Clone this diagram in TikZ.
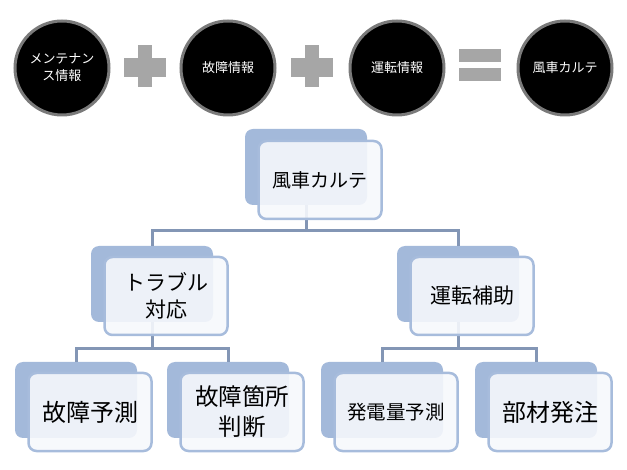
\documentclass[tikz,border=0pt]{standalone}
\usepackage{fontspec}
\setmainfont{Noto Sans CJK JP}
\definecolor{backblue}{HTML}{A3B9DA}
\definecolor{frontfill}{HTML}{F6F8FC}
\definecolor{frontline}{HTML}{A7BCDC}
\definecolor{conn}{HTML}{8396B5}
\definecolor{signgray}{HTML}{A6A6A6}
\definecolor{ringgray}{HTML}{7A7A7A}
\tikzset{
  backbox/.style={rectangle, rounded corners=8pt, fill=backblue, minimum width=122pt, minimum height=76pt, inner sep=0pt},
  frontbox/.style={rectangle, rounded corners=8pt, fill=frontfill, fill opacity=0.9, text opacity=1, draw=frontline, line width=2.5pt, minimum width=123pt, minimum height=78pt, inner sep=0pt, align=center, text=black},
  circ/.style={circle, fill=black, draw=ringgray, line width=3pt, minimum size=94pt, inner sep=0pt, text=white, align=center, font=\fontsize{13pt}{17pt}\selectfont},
  connector/.style={draw=conn, line width=3pt},
  signbar/.style={fill=signgray}
}
\begin{document}
\begin{tikzpicture}[x=1pt,y=-1pt]
\useasboundingbox (0,0) rectangle (627,470);
% top row
\node[circ] (c1) at (62,68) {メンテナン\\ス情報};
\node[circ] (c2) at (228,68) {故障情報};
\node[circ] (c3) at (397,68) {運転情報};
\node[circ] (c4) at (565,68) {風車カルテ};
% plus signs
\fill[signbar] (124,58) rectangle (166,77);
\fill[signbar] (138,45) rectangle (152,87);
\fill[signbar] (291,58) rectangle (333,77);
\fill[signbar] (305,45) rectangle (319,87);
% equals
\fill[signbar] (459,49) rectangle (501,62);
\fill[signbar] (459,68) rectangle (501,81);
% junction coordinates
\coordinate (j0) at (306,231);
\coordinate (j1) at (152,349);
\coordinate (j2) at (458,349);
% back boxes
\node[backbox] (root) at (306,167) {};
\node[backbox] (l2a) at (152,284) {};
\node[backbox] (l2b) at (458,284) {};
\node[backbox] (l3a) at (76,400) {};
\node[backbox] (l3b) at (228,400) {};
\node[backbox] (l3c) at (382,400) {};
\node[backbox] (l3d) at (536,400) {};
% connectors
\draw[connector] (root.south) -- (j0);
\draw[connector] (j0) -| (l2a.north);
\draw[connector] (j0) -| (l2b.north);
\draw[connector] (l2a.south) -- (j1);
\draw[connector] (j1) -| (l3a.north);
\draw[connector] (j1) -| (l3b.north);
\draw[connector] (l2b.south) -- (j2);
\draw[connector] (j2) -| (l3c.north);
\draw[connector] (j2) -| (l3d.north);
% front boxes
\node[frontbox, font=\fontsize{19pt}{24pt}\selectfont] (froot) at (320,180) {風車カルテ};
\node[frontbox, font=\fontsize{21pt}{27pt}\selectfont] (fl2a) at (166,296) {トラブル\\対応};
\node[frontbox, font=\fontsize{21pt}{27pt}\selectfont] (fl2b) at (472,296) {運転補助};
\node[frontbox, font=\fontsize{24pt}{28pt}\selectfont] (fl3a) at (90,412) {故障予測};
\node[frontbox, font=\fontsize{23.5pt}{30pt}\selectfont] (fl3b) at (242,412) {故障箇所\\判断};
\node[frontbox, font=\fontsize{19.5pt}{24pt}\selectfont] (fl3c) at (396,412) {発電量予測};
\node[frontbox, font=\fontsize{24pt}{28pt}\selectfont] (fl3d) at (550,412) {部材発注};
\end{tikzpicture}
\end{document}
